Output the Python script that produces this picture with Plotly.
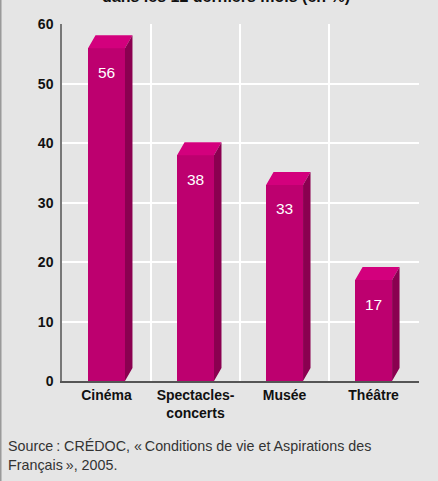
import plotly.graph_objects as go

categories = ["Cinéma", "Spectacles-<br>concerts", "Musée", "Théâtre"]
values = [56, 38, 33, 17]
y_ticks = [0, 10, 20, 30, 40, 50, 60]
title_text = "dans les 12 derniers mois (en %)"
source_text = ("Source\u202f: CRÉDOC, «\u202fConditions de vie et Aspirations des<br>"
               "Français\u202f», 2005.")

FRONT = "#BD006F"
TOP = "#D3007D"
SIDE = "#8A0050"
BG = "#E5E5E5"

W = 0.415      # bar front width (category units)
DX = 0.084     # depth offset in x (category units)
DY = 2.2       # depth offset in y (value units)

xs = list(range(len(categories)))

fig = go.Figure()

fig.add_trace(go.Bar(x=xs, y=values, width=W, marker=dict(color=FRONT, line=dict(width=0)),
                     hoverinfo="skip", showlegend=False))

top_x, top_y, side_x, side_y = [], [], [], []
for i, v in zip(xs, values):
    l, r = i - W / 2, i + W / 2
    top_x += [l, r, r + DX, l + DX, l, None]
    top_y += [v, v, v + DY, v + DY, v, None]
    side_x += [r, r, r + DX, r + DX, r, None]
    side_y += [0, v, v + DY, DY, 0, None]

fig.add_trace(go.Scatter(x=top_x, y=top_y, mode="lines", fill="toself", fillcolor=TOP,
                         line=dict(width=0, color=TOP), hoverinfo="skip", showlegend=False))
fig.add_trace(go.Scatter(x=side_x, y=side_y, mode="lines", fill="toself", fillcolor=SIDE,
                         line=dict(width=0, color=SIDE), hoverinfo="skip", showlegend=False))

for i, v in zip(xs, values):
    fig.add_annotation(x=i, y=v, xref="x", yref="y", text=str(v), showarrow=False,
                       yanchor="middle", yshift=-24,
                       font=dict(family="Liberation Sans, Arial, sans-serif", size=15.5, color="white"))

fig.add_annotation(x=0.459, y=1.0505, xref="paper", yref="paper", text="<b>" + title_text + "</b>",
                   showarrow=False, xanchor="center", yanchor="bottom", borderpad=0,
                   font=dict(family="Liberation Sans, Arial, sans-serif", size=16, color="#111"))

fig.add_annotation(x=-0.158, y=-0.155, xref="paper", yref="paper", text=source_text,
                   showarrow=False, xanchor="left", yanchor="top", align="left",
                   font=dict(family="Liberation Sans, Arial, sans-serif", size=14.3, color="#333"))

fig.add_shape(type="line", xref="paper", yref="paper", x0=-0.1722, x1=-0.1722, y0=-0.3, y1=1.2,
              line=dict(color="#9A9A9A", width=2))

fig.update_layout(
    width=438, height=481,
    margin=dict(l=62, r=19, t=24, b=100),
    paper_bgcolor=BG, plot_bgcolor=BG,
    bargap=0,
    font=dict(family="Liberation Sans, Arial, sans-serif", color="#111"),
    xaxis=dict(range=[-0.5, 3.51], tickvals=xs, ticktext=["<b>" + c + "</b>" for c in categories],
               tickfont=dict(size=14, color="#111"), showgrid=False, zeroline=False,
               showline=True, linecolor="#555", linewidth=2, ticks="",
               minor=dict(tickvals=[0.5, 1.5, 2.5, 3.5], showgrid=True, gridcolor="white", gridwidth=1.5),
               fixedrange=True),
    yaxis=dict(range=[0, 60.1], tickvals=y_ticks, ticktext=["<b>%d</b>" % t for t in y_ticks],
               tickfont=dict(size=14, color="#111"), showgrid=True, gridcolor="white", gridwidth=1.5,
               zeroline=False, showline=True, linecolor="#777", linewidth=1.5, ticks="",
               ticklabelstandoff=4, fixedrange=True),
)

fig.write_html("out.html")
